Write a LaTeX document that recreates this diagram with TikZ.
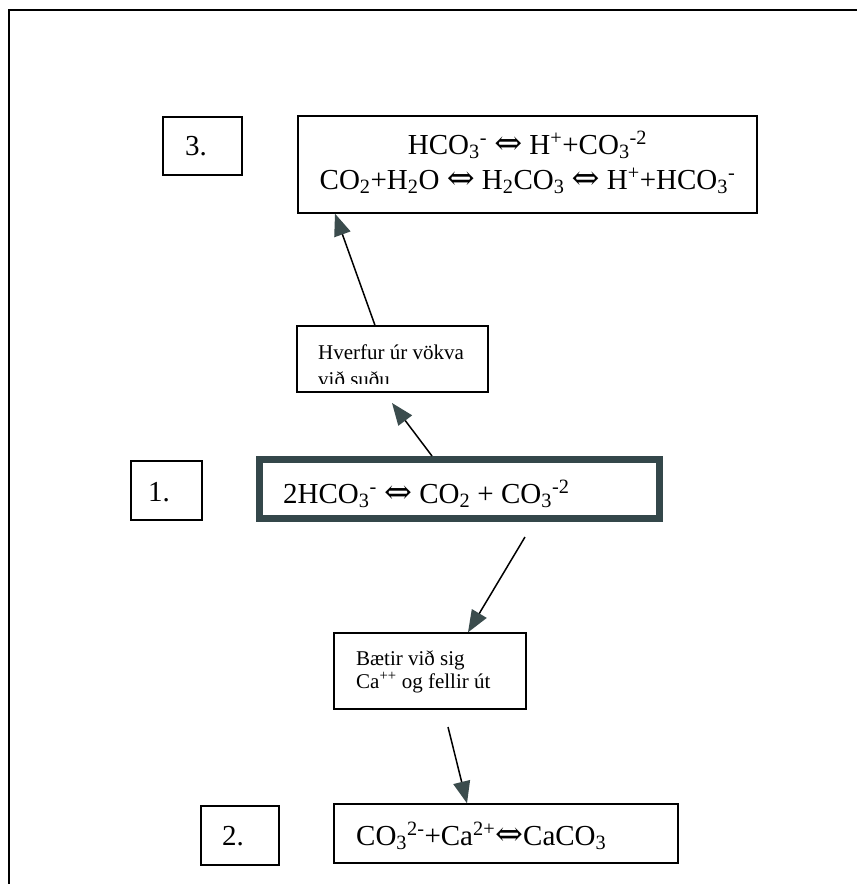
\documentclass[tikz,border=0pt]{standalone}
\usepackage{fontspec}
\usepackage{graphicx}
\setmainfont{Liberation Serif}
\newfontfamily\symfont{DejaVu Serif}
\usetikzlibrary{arrows.meta}
\definecolor{thickc}{HTML}{34474A}
\definecolor{arrowc}{HTML}{3B4C4D}
\newcommand{\dbl}{\raisebox{-0.02em}{\scalebox{1.15}{\symfont ⇔}}}
\newcommand{\lsb}[1]{\textsubscript{#1}}
\newcommand{\lsp}[1]{\textsuperscript{#1}}
\begin{document}
\begin{tikzpicture}[x=1pt,y=-1pt,
  box/.style={draw, line width=1.3pt, inner sep=0pt},
  thickbox/.style={draw=thickc, line width=7pt, inner sep=0pt},
  eqtext/.style={font=\fontsize{29}{35}\selectfont, inner sep=0pt},
  smalltext/.style={font=\fontsize{21}{27}\selectfont, inner sep=0pt},
  conn/.style={line width=1.5pt, -{Triangle[length=22pt,width=17pt,color=arrowc]}}]
\useasboundingbox (0,0) rectangle (857,884);
\fill[white] (0,0) rectangle (857,884);
% outer frame
\draw[line width=2pt] (857,10) -- (9,10) -- (9,884);

% boxes
\node[box, minimum width=79pt, minimum height=58pt] (n3box) at (202.5,146) {};
\node[box, minimum width=459pt, minimum height=97pt] (eq3box) at (527.5,164.5) {};
\node[box, minimum width=191pt, minimum height=66pt] (hvbox) at (392.5,359) {};
\node[box, minimum width=71pt, minimum height=59pt] (n1box) at (166.5,490.5) {};
\node[thickbox, minimum width=400pt, minimum height=59pt] (eq1box) at (459.5,489) {};
\node[box, minimum width=192pt, minimum height=76pt] (btbox) at (430,671) {};
\node[box, minimum width=78pt, minimum height=59pt] (n2box) at (240,835.5) {};
\node[box, minimum width=344pt, minimum height=59pt] (eq2box) at (506,833.5) {};

% texts
\node[eqtext, anchor=base west] (n3) at (185,155) {3.};
\node[eqtext, anchor=base] (eq3a) at (527.5,154) {HCO\lsb{3}\lsp{-} \dbl{} H\lsp{+}+CO\lsb{3}\lsp{-2}};
\node[eqtext, anchor=base] (eq3b) at (527.5,189) {CO\lsb{2}+H\lsb{2}O \dbl{} H\lsb{2}CO\lsb{3} \dbl{} H\lsp{+}+HCO\lsb{3}\lsp{-}};
\begin{scope}
  \clip (298,327) rectangle (487,383);
  \node[smalltext, anchor=base west] (hv1) at (318,359) {Hverfur úr vökva};
  \node[smalltext, anchor=base west] (hv2) at (318,386) {við suðu};
\end{scope}
\node[eqtext, anchor=base west] (n1) at (148,501) {1.};
\node[eqtext, anchor=base west] (eq1) at (283,503) {2HCO\lsb{3}\lsp{-} \dbl{} CO\lsb{2} + CO\lsb{3}\lsp{-2}};
\node[smalltext, anchor=base west] (bt1) at (356,665) {Bætir við sig};
\node[smalltext, anchor=base west] (bt2) at (356,688) {Ca\lsp{++} og fellir út};
\node[eqtext, anchor=base west] (n2) at (222,845) {2.};
\node[eqtext, anchor=base west] (eq2) at (356,845) {CO\lsb{3}\lsp{2-}+Ca\lsp{2+}\dbl{}CaCO\lsb{3}};

% connectors
\coordinate (a1tip) at (392,403);
\coordinate (a3s) at (525,537);
\coordinate (a4s) at (448,727);
\draw[conn] ([xshift=-27.5pt]eq1box.north) -- (a1tip);
\draw[conn] ([xshift=-17.5pt]hvbox.north) -- ([xshift=-192.5pt]eq3box.south);
\draw[conn] (a3s) -- ([xshift=38pt]btbox.north);
\draw[conn] (a4s) -- ([xshift=-39pt]eq2box.north);
\end{tikzpicture}
\end{document}
